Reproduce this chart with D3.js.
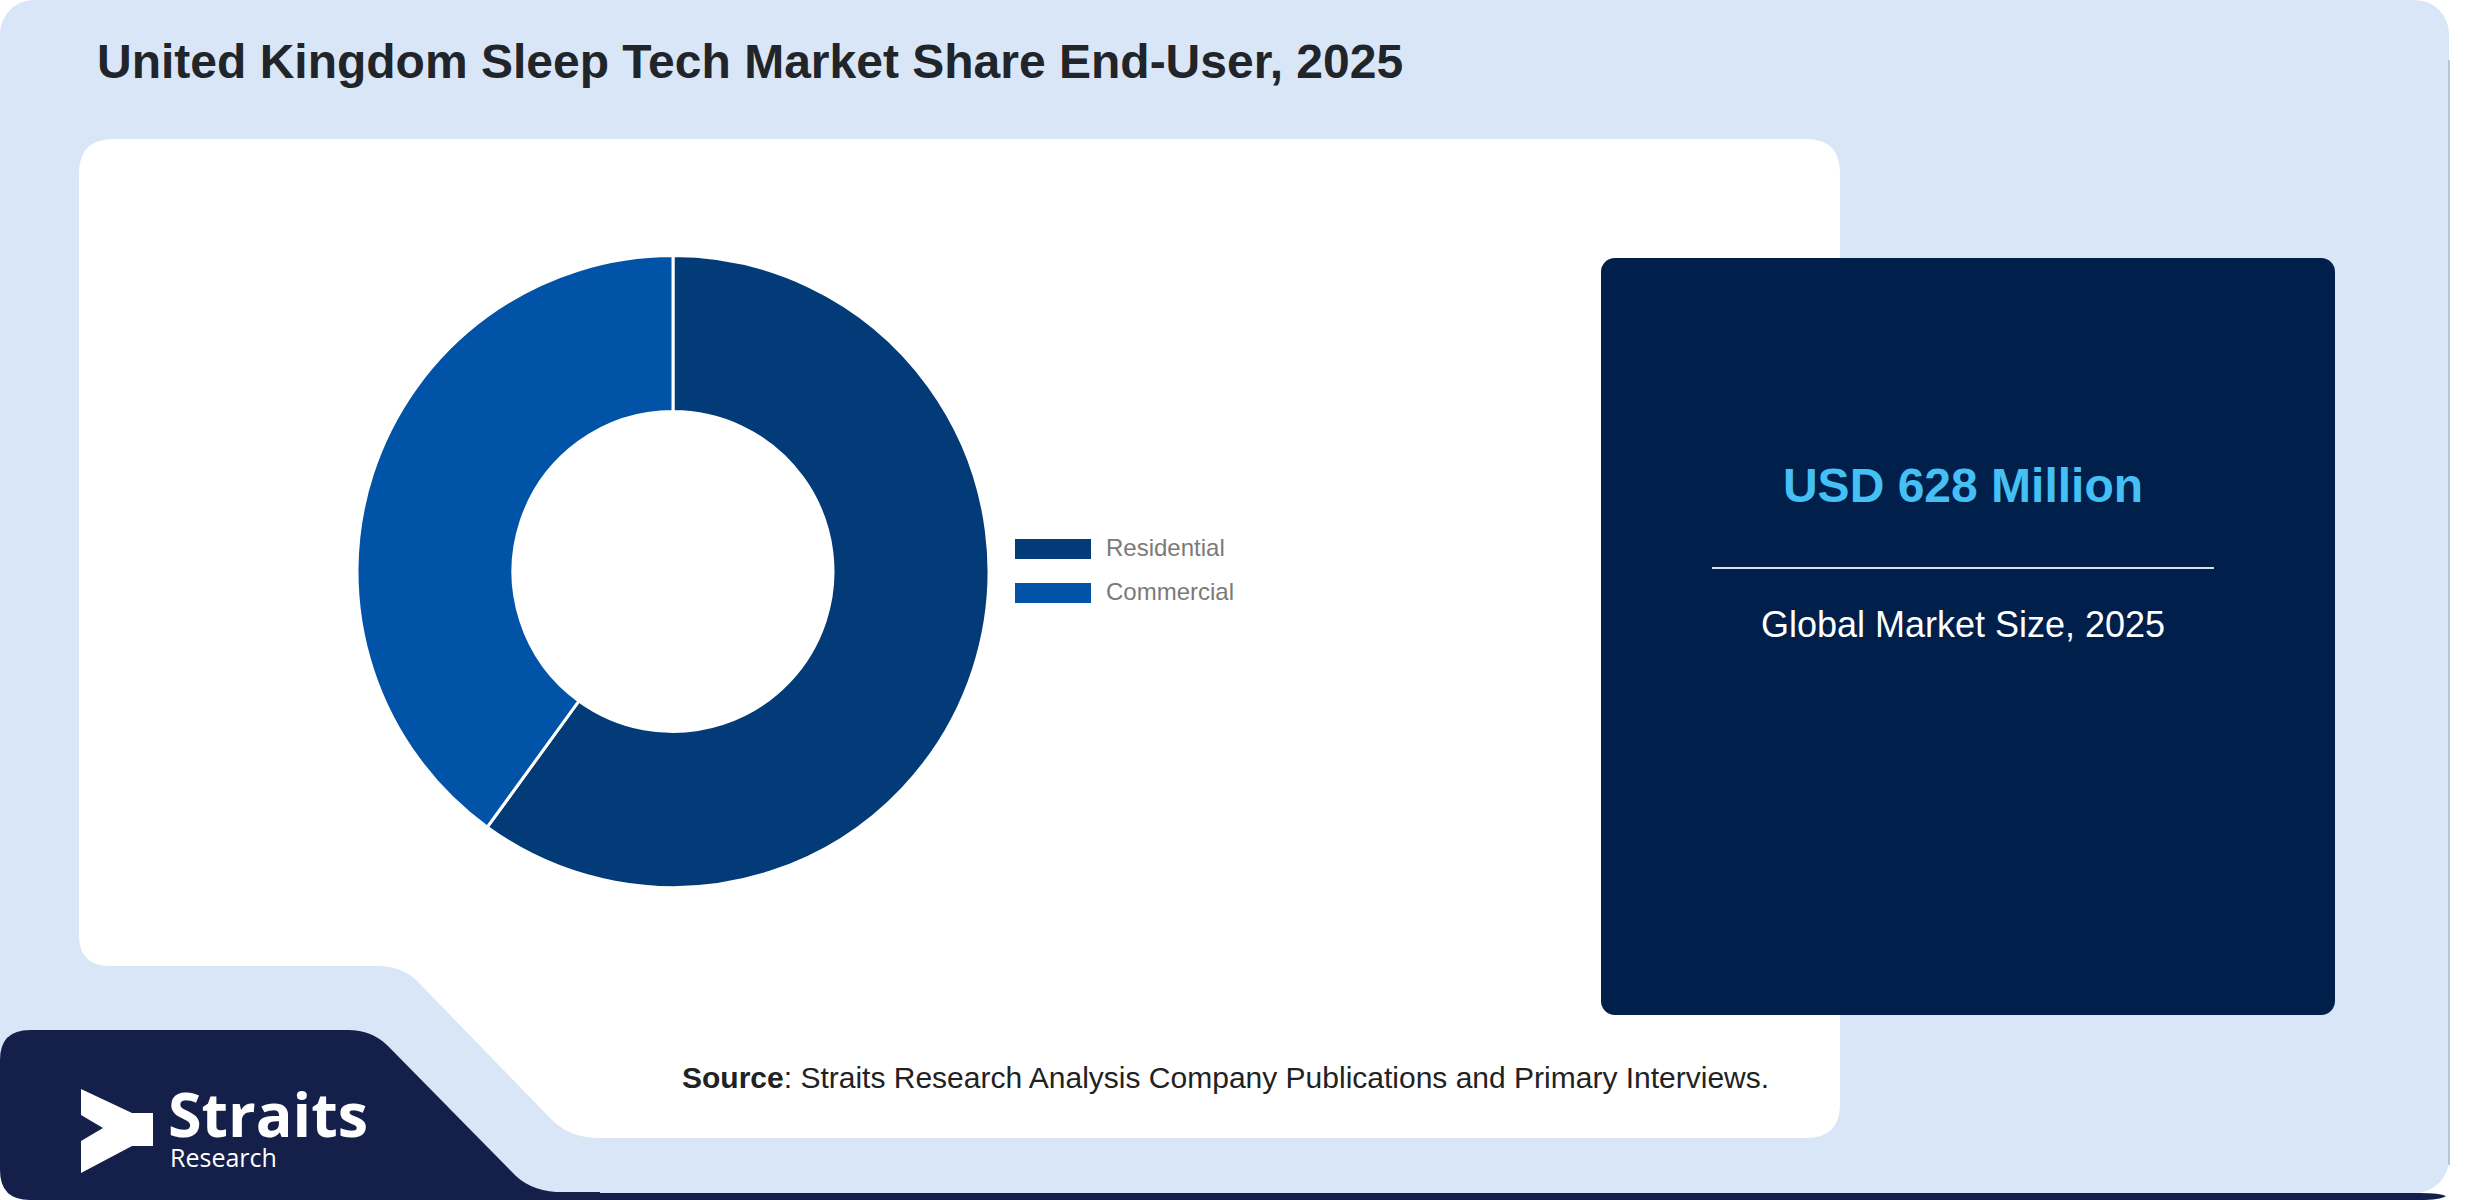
<!DOCTYPE html>
<html>
<head>
<meta charset="utf-8">
<script src="https://cdn.jsdelivr.net/npm/d3@7"></script>
<style>
  html, body { margin: 0; padding: 0; background: #ffffff; }
  svg { display: block; }
</style>
</head>
<body>
<svg id="chart" width="2480" height="1200"></svg>
<script>
// ---- data ----
const title = "United Kingdom Sleep Tech Market Share End-User, 2025";
const categories = ["Residential", "Commercial"];
const shares = [60, 40];
const marketValue = "USD 628 Million";
const marketLabel = "Global Market Size, 2025";
const sourceBold = "Source";
const sourceText = ": Straits Research Analysis Company Publications and Primary Interviews.";

// ---- styles ----
const sliceColors = ["#033b78", "#0053a6"];
const svg = d3.select("#chart");

// light blue card
svg.append("rect").attr("x", 0).attr("y", 0).attr("width", 2449).attr("height", 1193)
  .attr("rx", 34).attr("ry", 34).attr("fill", "#d9e6f8");
// subtle right shadow
svg.append("line").attr("x1", 2449).attr("x2", 2449).attr("y1", 60).attr("y2", 1165)
  .attr("stroke", "#a9b6c8").attr("stroke-width", 1.5);
// bottom navy strip
svg.append("path")
  .attr("d", "M540,1193 H2420 Q2440,1193 2446,1196 Q2440,1200 2420,1200 H540 Z")
  .attr("fill", "#14204a");

// navy logo band
svg.append("path")
  .attr("d", "M0,1060 Q0,1030 30,1030 H348 Q372,1030 388,1046 L512,1172 Q528,1190 556,1192 H600 V1200 H30 Q0,1200 0,1170 Z")
  .attr("fill", "#14204a");

// white panel
svg.append("path")
  .attr("d", "M114,139 H1806 Q1840,139 1840,173 V1104 Q1840,1138 1806,1138 H600 Q570,1138 552,1120 L420,984 Q405,967 380,966 H110 Q79,966 79,935 V173 Q79,139 114,139 Z")
  .attr("fill", "#ffffff");

// title
svg.append("text").attr("x", 97).attr("y", 78)
  .attr("font-family", "'Liberation Sans', Arial, sans-serif").attr("font-weight", 700)
  .attr("font-size", 48).attr("fill", "#212529").text(title);

// donut
const cx = 673, cy = 571.5, rOuter = 316, rInner = 160;
const pie = d3.pie().sort(null).value(d => d.v).startAngle(0).endAngle(2 * Math.PI);
const arc = d3.arc().innerRadius(rInner).outerRadius(rOuter);
const data = categories.map((c, i) => ({ c, v: shares[i] }));
const g = svg.append("g").attr("transform", `translate(${cx},${cy})`);
g.selectAll("path").data(pie(data)).join("path")
  .attr("d", arc)
  .attr("fill", (d, i) => sliceColors[i])
  .attr("stroke", "#ffffff").attr("stroke-width", 3);

// legend
const legend = svg.append("g").attr("transform", "translate(1015,539)");
const li = legend.selectAll("g").data(categories).join("g")
  .attr("transform", (d, i) => `translate(0,${i * 44})`);
li.append("rect").attr("width", 76).attr("height", 20).attr("fill", (d, i) => sliceColors[i]);
li.append("text").attr("x", 91).attr("y", 17)
  .attr("font-family", "'Liberation Sans', Arial, sans-serif").attr("font-size", 24)
  .attr("fill", "#7a7a7a").text(d => d);

// navy info box
svg.append("rect").attr("x", 1601).attr("y", 258).attr("width", 734).attr("height", 757)
  .attr("rx", 14).attr("ry", 14).attr("fill", "#001f4b");
const bx = 1963;
svg.append("text").attr("x", bx).attr("y", 502).attr("text-anchor", "middle")
  .attr("font-family", "'Liberation Sans', Arial, sans-serif").attr("font-weight", 700)
  .attr("font-size", 48).attr("fill", "#45c0f5").text(marketValue);
svg.append("line").attr("x1", 1712).attr("x2", 2214).attr("y1", 568).attr("y2", 568)
  .attr("stroke", "#d8dde6").attr("stroke-width", 2);
svg.append("text").attr("x", bx).attr("y", 637).attr("text-anchor", "middle")
  .attr("font-family", "'Liberation Sans', Arial, sans-serif")
  .attr("font-size", 36).attr("fill", "#ffffff").text(marketLabel);

// source
const src = svg.append("text").attr("x", 682).attr("y", 1088)
  .attr("font-family", "'Liberation Sans', Arial, sans-serif").attr("font-size", 30).attr("fill", "#222222");
src.append("tspan").attr("font-weight", 700).text(sourceBold);
src.append("tspan").text(sourceText);

// logo
svg.append("path")
  .attr("d", "M81,1089 L132,1113 H153 V1146 H132 L81,1173 V1141 L103,1128 L81,1115 Z")
  .attr("fill", "#ffffff");
svg.append("text").attr("x", 168).attr("y", 1137)
  .attr("font-family", "'Open Sans', sans-serif").attr("font-weight", 700)
  .attr("font-size", 61).attr("fill", "#ffffff").text("Straits");
svg.append("text").attr("x", 170).attr("y", 1167)
  .attr("font-family", "'Open Sans', sans-serif").attr("font-weight", 400)
  .attr("font-size", 25).attr("fill", "#ffffff").text("Research");
</script>
</body>
</html>
